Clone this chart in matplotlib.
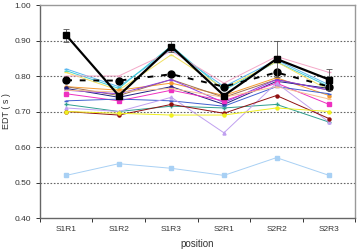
import numpy as np
import matplotlib.pyplot as plt

plt.rcParams['font.family'] = ['Liberation Sans', 'DejaVu Sans']

positions = ["S1R1", "S1R2", "S1R3", "S2R1", "S2R2", "S2R3"]

# mean with error bars (black squares)
mean_sq = [0.915, 0.745, 0.883, 0.745, 0.848, 0.790]
mean_sq_err = [0.018, 0.0, 0.015, 0.0, 0.050, 0.030]
# dashed reference (black circles)
mean_circ = [0.788, 0.787, 0.805, 0.770, 0.810, 0.770]

# individual series (colour, values)
s_lightblue = [0.820, 0.770, 0.875, 0.770, 0.845, 0.775]
s_cyan = [0.815, 0.765, 0.885, 0.760, 0.840, 0.770]
s_yellow1 = [0.810, 0.760, 0.860, 0.765, 0.840, 0.760]
s_pink = [0.800, 0.800, 0.870, 0.780, 0.855, 0.810]
s_orange = [0.770, 0.760, 0.780, 0.745, 0.795, 0.745]
s_brown = [0.770, 0.745, 0.790, 0.740, 0.790, 0.760]
s_navy = [0.765, 0.740, 0.770, 0.720, 0.785, 0.765]
s_purple = [0.760, 0.750, 0.790, 0.725, 0.790, 0.760]
s_magenta = [0.750, 0.730, 0.760, 0.730, 0.780, 0.720]
s_blue = [0.730, 0.735, 0.730, 0.715, 0.770, 0.750]
s_peach = [0.760, 0.755, 0.765, 0.740, 0.770, 0.735]
s_teal = [0.720, 0.700, 0.715, 0.710, 0.720, 0.670]
s_lavender = [0.710, 0.700, 0.740, 0.640, 0.780, 0.670]
s_darkred = [0.700, 0.690, 0.720, 0.695, 0.745, 0.680]
s_yellow2 = [0.700, 0.695, 0.690, 0.690, 0.710, 0.700]
s_bottom = [0.520, 0.553, 0.540, 0.520, 0.570, 0.520]

thin = [
    (s_lightblue, "#5bb8f0", "_"),
    (s_cyan, "#40d0d8", "_"),
    (s_yellow1, "#f0e060", "_"),
    (s_pink, "#f4a8c8", "_"),
    (s_orange, "#f59a30", "o"),
    (s_brown, "#a07050", "_"),
    (s_navy, "#202080", "o"),
    (s_purple, "#9040e0", "_"),
    (s_magenta, "#ee30c0", "s"),
    (s_blue, "#4060d0", "_"),
    (s_peach, "#f5c090", "_"),
    (s_teal, "#30a090", "+"),
    (s_lavender, "#c0a0f0", "^"),
    (s_darkred, "#901010", "o"),
    (s_yellow2, "#f0f020", "o"),
    (s_bottom, "#a8d0f4", "s"),
]

fig = plt.figure(figsize=(3.59, 2.5), dpi=100)
ax = fig.add_axes([0.111, 0.128, 0.879, 0.852])
x = np.arange(len(positions))

for vals, col, mk in thin:
    ax.plot(x, vals, color=col, lw=0.7, marker=mk, ms=2.2, mec=col, mfc=col, zorder=2)

ax.plot(x, mean_circ, color="black", lw=1.4, ls=(0, (3, 4)), marker="o", ms=5, zorder=4)
ax.errorbar(x, mean_sq, yerr=mean_sq_err, color="black", lw=1.6, marker="s", ms=4.5,
            ecolor="#555555", elinewidth=0.6, capsize=2, capthick=0.6, zorder=5)

ax.set_xlim(-0.5, 5.5)
ax.set_ylim(0.40, 1.00)
ax.set_yticks(np.arange(0.40, 1.001, 0.10))
ax.set_yticklabels([f"{v:.2f}" for v in np.arange(0.40, 1.001, 0.10)])
ax.set_xticks(np.arange(-0.5, 6.0, 1.0))
ax.set_xticklabels([])
ax.set_xticks(x, minor=True)
ax.set_xticklabels(positions, minor=True)
ax.tick_params(axis="x", which="minor", length=0, pad=6)
ax.tick_params(axis="both", which="major", length=3, width=0.7, color="#555555")
ax.tick_params(labelsize=6, colors="#333333")
ax.tick_params(axis="x", which="minor", labelsize=6, colors="#333333")

for v in [0.5, 0.6, 0.7, 0.8, 0.9]:
    ax.axhline(v, color="#666666", lw=0.8, ls=(0, (1.5, 1.5)), zorder=1)

for sp in ax.spines.values():
    sp.set_color("#999999")
    sp.set_linewidth(1.0)
ax.spines["left"].set_color("#666666")
ax.spines["bottom"].set_color("#666666")

ax.set_ylabel("EDT ( s )", fontsize=6.5, color="#333333")
ax.yaxis.set_label_coords(-0.09, 0.5)
ax.set_xlabel("position", fontsize=7, color="#333333", labelpad=4)

fig.savefig("out.png", dpi=100)
